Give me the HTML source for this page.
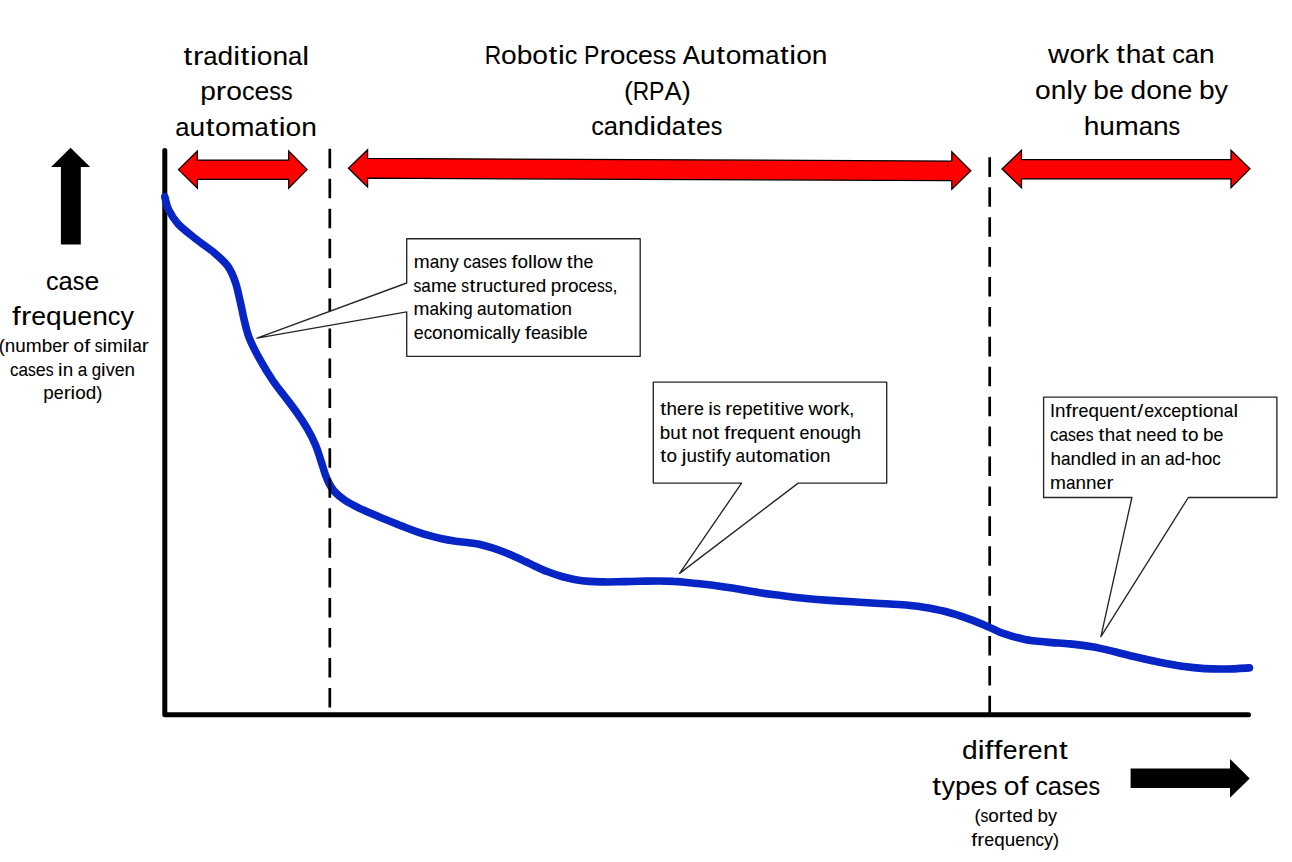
<!DOCTYPE html>
<html><head><meta charset="utf-8"><title>RPA long tail</title>
<style>
html,body{margin:0;padding:0;background:#fff;}
body{width:1292px;height:862px;overflow:hidden;}
svg{display:block;}
text{font-family:"Liberation Sans",sans-serif;fill:#000;stroke:#000;}
</style></head><body>
<svg width="1292" height="862" viewBox="0 0 1292 862">
<rect width="1292" height="862" fill="#fff"/>
<!-- axes -->
<path d="M164.8,150.5 V714.8 H1248.5" fill="none" stroke="#000" stroke-width="5" stroke-linecap="round" stroke-linejoin="round"/>
<!-- dashed line 2 (under curve) -->
<line x1="989.7" y1="157.3" x2="989.7" y2="714" stroke="#000" stroke-width="2.7" stroke-dasharray="19.6 10.32" fill="none"/>
<!-- curve -->
<path d="M164.8,196.7 C165.4,198.9 166.4,205.2 168.6,209.7 C170.8,214.2 173.2,218.6 177.8,223.6 C182.4,228.6 190.2,234.4 196.4,239.4 C202.6,244.4 209.7,248.8 214.9,253.3 C220.2,257.8 224.5,261.5 227.9,266.3 C231.3,271.1 233.3,276.3 235.3,282.0 C237.3,287.7 238.5,294.2 240.0,300.6 C241.5,307.0 242.8,314.3 244.3,320.5 C245.8,326.7 246.7,331.5 249.2,337.8 C251.7,344.1 255.4,351.3 259.3,358.3 C263.2,365.3 268.2,373.7 272.4,380.0 C276.6,386.3 280.5,390.8 284.6,396.2 C288.7,401.6 293.0,407.1 296.8,412.5 C300.6,417.9 304.2,423.3 307.3,428.7 C310.4,434.1 313.2,439.5 315.5,444.9 C317.8,450.3 319.5,456.3 321.1,461.2 C322.7,466.1 323.8,470.4 325.2,474.2 C326.6,478.0 327.7,480.9 329.3,483.9 C330.9,486.9 332.3,489.3 334.9,492.0 C337.5,494.7 340.9,497.5 344.7,500.1 C348.5,502.7 353.5,505.3 357.7,507.4 C361.9,509.5 366.3,511.3 370.0,512.9 C373.7,514.5 376.3,515.6 380.0,517.2 C383.7,518.8 388.3,520.6 392.4,522.3 C396.5,524.0 400.7,525.6 404.8,527.2 C408.9,528.8 413.1,530.4 417.2,531.8 C421.3,533.2 425.4,534.5 429.5,535.7 C433.6,536.9 437.8,537.9 441.9,538.8 C446.0,539.7 450.2,540.4 454.3,541.0 C458.4,541.6 462.6,542.0 466.7,542.5 C470.8,543.0 475.0,543.4 479.1,544.3 C483.2,545.2 487.4,546.4 491.5,547.7 C495.6,549.0 499.7,550.4 503.8,552.0 C507.9,553.6 512.5,555.6 516.2,557.2 C519.9,558.8 523.0,560.4 526.0,561.8 C529.0,563.2 530.2,563.9 533.9,565.6 C537.5,567.3 543.2,570.0 547.9,571.8 C552.5,573.6 557.2,575.2 561.8,576.5 C566.4,577.8 571.1,578.9 575.7,579.7 C580.4,580.5 585.1,581.0 589.7,581.4 C594.4,581.8 599.0,581.8 603.6,581.9 C608.2,582.0 612.9,581.9 617.5,581.8 C622.1,581.7 626.9,581.6 631.5,581.5 C636.1,581.4 640.8,581.2 645.4,581.1 C650.0,581.0 654.7,581.0 659.3,581.0 C663.9,581.0 668.6,581.1 673.2,581.4 C677.9,581.6 682.7,582.1 687.2,582.5 C691.7,582.9 695.7,583.3 700.0,583.8 C704.3,584.3 707.1,584.5 713.2,585.3 C719.3,586.1 728.6,587.6 736.4,588.8 C744.1,590.0 752.0,591.6 759.7,592.7 C767.5,593.9 775.2,594.7 782.9,595.7 C790.6,596.7 798.4,597.7 806.1,598.5 C813.8,599.3 821.6,599.9 829.3,600.4 C837.0,600.9 844.8,601.3 852.5,601.8 C860.2,602.3 868.0,602.8 875.7,603.2 C883.5,603.7 891.2,603.9 899.0,604.5 C906.8,605.1 914.5,605.7 922.2,606.9 C929.9,608.1 937.7,609.5 945.4,611.5 C953.1,613.5 961.2,616.2 968.6,618.9 C976.0,621.5 984.2,625.0 989.8,627.4 C995.4,629.8 996.5,631.1 1002.4,633.1 C1008.2,635.1 1017.4,637.9 1024.9,639.4 C1032.4,640.9 1039.8,641.4 1047.3,642.1 C1054.8,642.9 1062.3,643.1 1069.8,643.9 C1077.3,644.7 1084.7,645.5 1092.2,646.8 C1099.7,648.1 1107.2,650.0 1114.7,651.7 C1122.2,653.5 1129.6,655.5 1137.1,657.3 C1144.6,659.1 1152.1,660.8 1159.6,662.3 C1167.1,663.8 1174.5,665.2 1182.0,666.3 C1189.5,667.3 1197.0,668.1 1204.5,668.6 C1212.0,669.1 1219.4,669.1 1226.9,669.0 C1234.4,668.9 1245.7,668.1 1249.4,667.9" fill="none" stroke="#0725c5" stroke-width="7.6" stroke-linecap="round" stroke-linejoin="round"/>
<!-- dashed line 1 (over curve) -->
<line x1="329.8" y1="148.8" x2="329.8" y2="712" stroke="#000" stroke-width="2.7" stroke-dasharray="19.5 10.45" fill="none"/>
<!-- callouts -->
<g fill="#fff" stroke="#262626" stroke-width="1.35" stroke-linejoin="round">
<path d="M406.7,238.7 H640.2 V356.3 H406.7 V311.9 L257,338.2 L406.7,283 Z"/>
<path d="M653.3,382.1 H886.7 V483.1 H798.2 L679.6,573.4 L741.6,483.1 H653.3 Z"/>
<path d="M1043.6,397.1 H1276.9 V497.5 H1188.3 L1100.9,636.7 L1131.9,497.5 H1043.6 Z"/>
</g>
<!-- red arrows -->
<g fill="#ff0000" stroke="#000" stroke-width="1.25" stroke-linejoin="miter">
<path d="M178.4,169.6 L197.4,151.1 V160.1 H288.7 V151.1 L307,169.6 L288.7,188.3 V179.3 H197.4 V188.3 Z"/>
<path d="M348.4,168.2 L367.6,149.7 V158.4 L951.8,161 V151.8 L970.8,170.8 L951.8,189.2 V180.5 L367.6,178.2 V187 Z"/>
<path d="M1002,169 L1021.5,150.3 V159.6 H1231 V150.3 L1250,168.8 L1231,187.8 V178.9 H1021.5 V187.8 Z"/>
</g>
<!-- black arrows -->
<path d="M70.6,147.7 L90.1,166.9 H80.8 V244.6 H60.9 V166.9 H51.1 Z" fill="#000"/>
<path d="M1130.6,768.4 H1230 V758.9 L1249.7,778.4 L1230,797.7 V788.1 H1130.6 Z" fill="#000"/>
<!-- text -->
<g font-size="26.5" stroke-width="0.05"><text transform="translate(183.57,64.5) scale(1.180,1)">t</text><text transform="translate(192.90,64.5) scale(1.175,1)">r</text><text transform="translate(203.27,64.5) scale(0.967,1)">a</text><text transform="translate(217.52,64.5) scale(1.061,1)">d</text><text transform="translate(233.15,64.5) scale(1.160,1)">i</text><text transform="translate(240.62,64.5) scale(1.180,1)">t</text><text transform="translate(249.94,64.5) scale(1.160,1)">i</text><text transform="translate(256.77,64.5) scale(1.064,1)">o</text><text transform="translate(272.46,64.5) scale(1.061,1)">n</text><text transform="translate(288.09,64.5) scale(0.967,1)">a</text><text transform="translate(302.34,64.5) scale(1.160,1)">l</text></g>
<g font-size="26.5" stroke-width="0.05"><text transform="translate(200.23,99.7) scale(1.061,1)">p</text><text transform="translate(215.86,99.7) scale(1.175,1)">r</text><text transform="translate(226.23,99.7) scale(1.064,1)">o</text><text transform="translate(241.92,99.7) scale(0.949,1)">c</text><text transform="translate(254.50,99.7) scale(1.004,1)">e</text><text transform="translate(269.30,99.7) scale(0.878,1)">s</text><text transform="translate(280.94,99.7) scale(0.878,1)">s</text></g>
<g font-size="26.5" stroke-width="0.05"><text transform="translate(175.27,136.2) scale(0.967,1)">a</text><text transform="translate(189.52,136.2) scale(1.061,1)">u</text><text transform="translate(205.79,136.2) scale(1.180,1)">t</text><text transform="translate(215.12,136.2) scale(1.064,1)">o</text><text transform="translate(230.80,136.2) scale(1.077,1)">m</text><text transform="translate(254.57,136.2) scale(0.967,1)">a</text><text transform="translate(269.46,136.2) scale(1.180,1)">t</text><text transform="translate(278.78,136.2) scale(1.160,1)">i</text><text transform="translate(285.61,136.2) scale(1.064,1)">o</text><text transform="translate(301.30,136.2) scale(1.061,1)">n</text></g>
<g font-size="26.5" stroke-width="0.05"><text transform="translate(484.65,63.5) scale(0.860,1)">R</text><text transform="translate(500.96,63.5) scale(1.064,1)">o</text><text transform="translate(516.65,63.5) scale(1.061,1)">b</text><text transform="translate(532.28,63.5) scale(1.064,1)">o</text><text transform="translate(548.60,63.5) scale(1.180,1)">t</text><text transform="translate(557.93,63.5) scale(1.160,1)">i</text><text transform="translate(564.76,63.5) scale(0.949,1)">c</text><text transform="translate(584.06,63.5) scale(0.870,1)">P</text><text transform="translate(599.43,63.5) scale(1.175,1)">r</text><text transform="translate(609.80,63.5) scale(1.064,1)">o</text><text transform="translate(625.49,63.5) scale(0.949,1)">c</text><text transform="translate(638.07,63.5) scale(1.004,1)">e</text><text transform="translate(652.87,63.5) scale(0.878,1)">s</text><text transform="translate(664.51,63.5) scale(0.878,1)">s</text><text transform="translate(682.87,63.5) scale(0.974,1)">A</text><text transform="translate(700.08,63.5) scale(1.061,1)">u</text><text transform="translate(716.35,63.5) scale(1.180,1)">t</text><text transform="translate(725.68,63.5) scale(1.064,1)">o</text><text transform="translate(741.37,63.5) scale(1.077,1)">m</text><text transform="translate(765.13,63.5) scale(0.967,1)">a</text><text transform="translate(780.02,63.5) scale(1.180,1)">t</text><text transform="translate(789.35,63.5) scale(1.160,1)">i</text><text transform="translate(796.18,63.5) scale(1.064,1)">o</text><text transform="translate(811.87,63.5) scale(1.061,1)">n</text></g>
<g font-size="26.5" stroke-width="0.05"><text transform="translate(623.91,99.6) scale(1.022,1)">(</text><text transform="translate(632.78,99.6) scale(0.860,1)">R</text><text transform="translate(649.09,99.6) scale(0.870,1)">P</text><text transform="translate(664.45,99.6) scale(0.974,1)">A</text><text transform="translate(681.67,99.6) scale(1.022,1)">)</text></g>
<g font-size="26.5" stroke-width="0.05"><text transform="translate(591.25,135.4) scale(0.949,1)">c</text><text transform="translate(603.83,135.4) scale(0.967,1)">a</text><text transform="translate(618.08,135.4) scale(1.061,1)">n</text><text transform="translate(633.71,135.4) scale(1.061,1)">d</text><text transform="translate(649.34,135.4) scale(1.160,1)">i</text><text transform="translate(656.17,135.4) scale(1.061,1)">d</text><text transform="translate(671.80,135.4) scale(0.967,1)">a</text><text transform="translate(686.69,135.4) scale(1.180,1)">t</text><text transform="translate(696.01,135.4) scale(1.004,1)">e</text><text transform="translate(710.82,135.4) scale(0.878,1)">s</text></g>
<g font-size="26.5" stroke-width="0.05"><text transform="translate(1048.11,62.9) scale(1.111,1)">w</text><text transform="translate(1069.38,62.9) scale(1.064,1)">o</text><text transform="translate(1085.07,62.9) scale(1.175,1)">r</text><text transform="translate(1095.44,62.9) scale(1.021,1)">k</text><text transform="translate(1116.33,62.9) scale(1.180,1)">t</text><text transform="translate(1125.65,62.9) scale(1.061,1)">h</text><text transform="translate(1141.29,62.9) scale(0.967,1)">a</text><text transform="translate(1156.17,62.9) scale(1.180,1)">t</text><text transform="translate(1172.23,62.9) scale(0.949,1)">c</text><text transform="translate(1184.81,62.9) scale(0.967,1)">a</text><text transform="translate(1199.06,62.9) scale(1.061,1)">n</text></g>
<g font-size="26.5" stroke-width="0.05"><text transform="translate(1035.02,98.7) scale(1.064,1)">o</text><text transform="translate(1050.70,98.7) scale(1.061,1)">n</text><text transform="translate(1066.33,98.7) scale(1.160,1)">l</text><text transform="translate(1073.16,98.7) scale(1.016,1)">y</text><text transform="translate(1093.35,98.7) scale(1.061,1)">b</text><text transform="translate(1108.98,98.7) scale(1.004,1)">e</text><text transform="translate(1130.51,98.7) scale(1.061,1)">d</text><text transform="translate(1146.14,98.7) scale(1.064,1)">o</text><text transform="translate(1161.83,98.7) scale(1.061,1)">n</text><text transform="translate(1177.46,98.7) scale(1.004,1)">e</text><text transform="translate(1198.99,98.7) scale(1.061,1)">b</text><text transform="translate(1214.62,98.7) scale(1.016,1)">y</text></g>
<g font-size="26.5" stroke-width="0.05"><text transform="translate(1083.63,134.5) scale(1.061,1)">h</text><text transform="translate(1099.26,134.5) scale(1.061,1)">u</text><text transform="translate(1114.89,134.5) scale(1.077,1)">m</text><text transform="translate(1138.65,134.5) scale(0.967,1)">a</text><text transform="translate(1152.91,134.5) scale(1.061,1)">n</text><text transform="translate(1168.54,134.5) scale(0.878,1)">s</text></g>
<g font-size="26.5" stroke-width="0.05"><text transform="translate(45.92,289.7) scale(0.949,1)">c</text><text transform="translate(58.50,289.7) scale(0.967,1)">a</text><text transform="translate(72.75,289.7) scale(0.878,1)">s</text><text transform="translate(84.38,289.7) scale(1.004,1)">e</text></g>
<g font-size="26.5" stroke-width="0.05"><text transform="translate(12.05,325.2) scale(1.180,1)">f</text><text transform="translate(20.93,325.2) scale(1.175,1)">r</text><text transform="translate(31.30,325.2) scale(1.004,1)">e</text><text transform="translate(46.11,325.2) scale(1.061,1)">q</text><text transform="translate(61.74,325.2) scale(1.061,1)">u</text><text transform="translate(77.37,325.2) scale(1.004,1)">e</text><text transform="translate(92.17,325.2) scale(1.061,1)">n</text><text transform="translate(107.80,325.2) scale(0.949,1)">c</text><text transform="translate(120.38,325.2) scale(1.016,1)">y</text></g>
<g font-size="18.0" stroke-width="0.08"><text transform="translate(-1.26,351.8) scale(1.009,1)">(</text><text transform="translate(4.79,351.8) scale(1.047,1)">n</text><text transform="translate(15.27,351.8) scale(1.047,1)">u</text><text transform="translate(25.75,351.8) scale(1.063,1)">m</text><text transform="translate(41.69,351.8) scale(1.047,1)">b</text><text transform="translate(52.17,351.8) scale(0.992,1)">e</text><text transform="translate(62.09,351.8) scale(1.160,1)">r</text><text transform="translate(73.56,351.8) scale(1.051,1)">o</text><text transform="translate(84.17,351.8) scale(1.180,1)">f</text><text transform="translate(94.68,351.8) scale(0.867,1)">s</text><text transform="translate(102.48,351.8) scale(1.145,1)">i</text><text transform="translate(107.06,351.8) scale(1.063,1)">m</text><text transform="translate(123.00,351.8) scale(1.145,1)">i</text><text transform="translate(127.57,351.8) scale(1.145,1)">l</text><text transform="translate(132.15,351.8) scale(0.955,1)">a</text><text transform="translate(141.71,351.8) scale(1.160,1)">r</text></g>
<g font-size="18.0" stroke-width="0.08"><text transform="translate(10.02,375.6) scale(0.937,1)">c</text><text transform="translate(18.46,375.6) scale(0.955,1)">a</text><text transform="translate(28.01,375.6) scale(0.867,1)">s</text><text transform="translate(35.82,375.6) scale(0.992,1)">e</text><text transform="translate(45.74,375.6) scale(0.867,1)">s</text><text transform="translate(58.06,375.6) scale(1.145,1)">i</text><text transform="translate(62.63,375.6) scale(1.047,1)">n</text><text transform="translate(77.63,375.6) scale(0.955,1)">a</text><text transform="translate(91.69,375.6) scale(0.938,1)">g</text><text transform="translate(101.08,375.6) scale(1.145,1)">i</text><text transform="translate(105.66,375.6) scale(1.001,1)">v</text><text transform="translate(114.67,375.6) scale(0.992,1)">e</text><text transform="translate(124.60,375.6) scale(1.047,1)">n</text></g>
<g font-size="18.0" stroke-width="0.08"><text transform="translate(43.25,399.4) scale(1.047,1)">p</text><text transform="translate(53.74,399.4) scale(0.992,1)">e</text><text transform="translate(63.66,399.4) scale(1.160,1)">r</text><text transform="translate(70.62,399.4) scale(1.145,1)">i</text><text transform="translate(75.20,399.4) scale(1.051,1)">o</text><text transform="translate(85.72,399.4) scale(1.047,1)">d</text><text transform="translate(96.20,399.4) scale(1.009,1)">)</text></g>
<g font-size="18.0" stroke-width="0.08"><text transform="translate(413.80,267.9) scale(1.063,1)">m</text><text transform="translate(429.74,267.9) scale(0.955,1)">a</text><text transform="translate(439.29,267.9) scale(1.047,1)">n</text><text transform="translate(449.78,267.9) scale(1.003,1)">y</text><text transform="translate(463.32,267.9) scale(0.937,1)">c</text><text transform="translate(471.75,267.9) scale(0.955,1)">a</text><text transform="translate(481.31,267.9) scale(0.867,1)">s</text><text transform="translate(489.11,267.9) scale(0.992,1)">e</text><text transform="translate(499.04,267.9) scale(0.867,1)">s</text><text transform="translate(511.44,267.9) scale(1.180,1)">f</text><text transform="translate(517.44,267.9) scale(1.051,1)">o</text><text transform="translate(527.96,267.9) scale(1.145,1)">l</text><text transform="translate(532.54,267.9) scale(1.145,1)">l</text><text transform="translate(537.12,267.9) scale(1.051,1)">o</text><text transform="translate(547.64,267.9) scale(1.097,1)">w</text><text transform="translate(566.80,267.9) scale(1.180,1)">t</text><text transform="translate(573.09,267.9) scale(1.047,1)">h</text><text transform="translate(583.57,267.9) scale(0.992,1)">e</text></g>
<g font-size="18.0" stroke-width="0.08"><text transform="translate(413.54,291.6) scale(0.867,1)">s</text><text transform="translate(421.34,291.6) scale(0.955,1)">a</text><text transform="translate(430.89,291.6) scale(1.063,1)">m</text><text transform="translate(446.83,291.6) scale(0.992,1)">e</text><text transform="translate(461.27,291.6) scale(0.867,1)">s</text><text transform="translate(469.46,291.6) scale(1.180,1)">t</text><text transform="translate(475.75,291.6) scale(1.160,1)">r</text><text transform="translate(482.71,291.6) scale(1.047,1)">u</text><text transform="translate(493.19,291.6) scale(0.937,1)">c</text><text transform="translate(502.02,291.6) scale(1.180,1)">t</text><text transform="translate(508.31,291.6) scale(1.047,1)">u</text><text transform="translate(518.79,291.6) scale(1.160,1)">r</text><text transform="translate(525.74,291.6) scale(0.992,1)">e</text><text transform="translate(535.67,291.6) scale(1.047,1)">d</text><text transform="translate(550.66,291.6) scale(1.047,1)">p</text><text transform="translate(561.14,291.6) scale(1.160,1)">r</text><text transform="translate(568.10,291.6) scale(1.051,1)">o</text><text transform="translate(578.62,291.6) scale(0.937,1)">c</text><text transform="translate(587.06,291.6) scale(0.992,1)">e</text><text transform="translate(596.98,291.6) scale(0.867,1)">s</text><text transform="translate(604.78,291.6) scale(0.867,1)">s</text><text transform="translate(612.59,291.6) scale(0.995,1)">,</text></g>
<g font-size="18.0" stroke-width="0.08"><text transform="translate(413.54,315.4) scale(1.063,1)">m</text><text transform="translate(429.48,315.4) scale(0.955,1)">a</text><text transform="translate(439.03,315.4) scale(1.008,1)">k</text><text transform="translate(448.10,315.4) scale(1.145,1)">i</text><text transform="translate(452.68,315.4) scale(1.047,1)">n</text><text transform="translate(463.16,315.4) scale(0.938,1)">g</text><text transform="translate(477.06,315.4) scale(0.955,1)">a</text><text transform="translate(486.62,315.4) scale(1.047,1)">u</text><text transform="translate(497.49,315.4) scale(1.180,1)">t</text><text transform="translate(503.78,315.4) scale(1.051,1)">o</text><text transform="translate(514.30,315.4) scale(1.063,1)">m</text><text transform="translate(530.24,315.4) scale(0.955,1)">a</text><text transform="translate(540.19,315.4) scale(1.180,1)">t</text><text transform="translate(546.48,315.4) scale(1.145,1)">i</text><text transform="translate(551.06,315.4) scale(1.051,1)">o</text><text transform="translate(561.58,315.4) scale(1.047,1)">n</text></g>
<g font-size="18.0" stroke-width="0.08"><text transform="translate(413.74,339.4) scale(0.992,1)">e</text><text transform="translate(423.66,339.4) scale(0.937,1)">c</text><text transform="translate(432.10,339.4) scale(1.051,1)">o</text><text transform="translate(442.62,339.4) scale(1.047,1)">n</text><text transform="translate(453.10,339.4) scale(1.051,1)">o</text><text transform="translate(463.62,339.4) scale(1.063,1)">m</text><text transform="translate(479.56,339.4) scale(1.145,1)">i</text><text transform="translate(484.14,339.4) scale(0.937,1)">c</text><text transform="translate(492.57,339.4) scale(0.955,1)">a</text><text transform="translate(502.13,339.4) scale(1.145,1)">l</text><text transform="translate(506.71,339.4) scale(1.145,1)">l</text><text transform="translate(511.29,339.4) scale(1.003,1)">y</text><text transform="translate(524.92,339.4) scale(1.180,1)">f</text><text transform="translate(530.91,339.4) scale(0.992,1)">e</text><text transform="translate(540.84,339.4) scale(0.955,1)">a</text><text transform="translate(550.40,339.4) scale(0.867,1)">s</text><text transform="translate(558.20,339.4) scale(1.145,1)">i</text><text transform="translate(562.78,339.4) scale(1.047,1)">b</text><text transform="translate(573.26,339.4) scale(1.145,1)">l</text><text transform="translate(577.84,339.4) scale(0.992,1)">e</text></g>
<g font-size="18.0" stroke-width="0.08"><text transform="translate(660.28,415.2) scale(1.180,1)">t</text><text transform="translate(666.57,415.2) scale(1.047,1)">h</text><text transform="translate(677.06,415.2) scale(0.992,1)">e</text><text transform="translate(686.98,415.2) scale(1.160,1)">r</text><text transform="translate(693.94,415.2) scale(0.992,1)">e</text><text transform="translate(708.37,415.2) scale(1.145,1)">i</text><text transform="translate(712.95,415.2) scale(0.867,1)">s</text><text transform="translate(725.27,415.2) scale(1.160,1)">r</text><text transform="translate(732.22,415.2) scale(0.992,1)">e</text><text transform="translate(742.15,415.2) scale(1.047,1)">p</text><text transform="translate(752.63,415.2) scale(0.992,1)">e</text><text transform="translate(762.95,415.2) scale(1.180,1)">t</text><text transform="translate(769.24,415.2) scale(1.145,1)">i</text><text transform="translate(774.21,415.2) scale(1.180,1)">t</text><text transform="translate(780.50,415.2) scale(1.145,1)">i</text><text transform="translate(785.08,415.2) scale(1.001,1)">v</text><text transform="translate(794.09,415.2) scale(0.992,1)">e</text><text transform="translate(808.52,415.2) scale(1.097,1)">w</text><text transform="translate(822.78,415.2) scale(1.051,1)">o</text><text transform="translate(833.31,415.2) scale(1.160,1)">r</text><text transform="translate(840.26,415.2) scale(1.008,1)">k</text><text transform="translate(849.33,415.2) scale(0.995,1)">,</text></g>
<g font-size="18.0" stroke-width="0.08"><text transform="translate(659.72,438.9) scale(1.047,1)">b</text><text transform="translate(670.20,438.9) scale(1.047,1)">u</text><text transform="translate(681.07,438.9) scale(1.180,1)">t</text><text transform="translate(691.87,438.9) scale(1.047,1)">n</text><text transform="translate(702.35,438.9) scale(1.051,1)">o</text><text transform="translate(713.27,438.9) scale(1.180,1)">t</text><text transform="translate(724.16,438.9) scale(1.180,1)">f</text><text transform="translate(730.16,438.9) scale(1.160,1)">r</text><text transform="translate(737.11,438.9) scale(0.992,1)">e</text><text transform="translate(747.04,438.9) scale(1.047,1)">q</text><text transform="translate(757.52,438.9) scale(1.047,1)">u</text><text transform="translate(768.00,438.9) scale(0.992,1)">e</text><text transform="translate(777.93,438.9) scale(1.047,1)">n</text><text transform="translate(788.80,438.9) scale(1.180,1)">t</text><text transform="translate(799.60,438.9) scale(0.992,1)">e</text><text transform="translate(809.53,438.9) scale(1.047,1)">n</text><text transform="translate(820.01,438.9) scale(1.051,1)">o</text><text transform="translate(830.53,438.9) scale(1.047,1)">u</text><text transform="translate(841.01,438.9) scale(0.938,1)">g</text><text transform="translate(850.40,438.9) scale(1.047,1)">h</text></g>
<g font-size="18.0" stroke-width="0.08"><text transform="translate(660.31,462.4) scale(1.180,1)">t</text><text transform="translate(666.60,462.4) scale(1.051,1)">o</text><text transform="translate(681.66,462.4) scale(1.180,1)">j</text><text transform="translate(686.41,462.4) scale(1.047,1)">u</text><text transform="translate(696.89,462.4) scale(0.867,1)">s</text><text transform="translate(705.08,462.4) scale(1.180,1)">t</text><text transform="translate(711.37,462.4) scale(1.145,1)">i</text><text transform="translate(716.05,462.4) scale(1.180,1)">f</text><text transform="translate(722.04,462.4) scale(1.003,1)">y</text><text transform="translate(735.58,462.4) scale(0.955,1)">a</text><text transform="translate(745.14,462.4) scale(1.047,1)">u</text><text transform="translate(756.01,462.4) scale(1.180,1)">t</text><text transform="translate(762.30,462.4) scale(1.051,1)">o</text><text transform="translate(772.82,462.4) scale(1.063,1)">m</text><text transform="translate(788.76,462.4) scale(0.955,1)">a</text><text transform="translate(798.71,462.4) scale(1.180,1)">t</text><text transform="translate(805.00,462.4) scale(1.145,1)">i</text><text transform="translate(809.58,462.4) scale(1.051,1)">o</text><text transform="translate(820.10,462.4) scale(1.047,1)">n</text></g>
<g font-size="18.0" stroke-width="0.08"><text transform="translate(1049.93,417.3) scale(1.005,1)">I</text><text transform="translate(1054.95,417.3) scale(1.047,1)">n</text><text transform="translate(1065.53,417.3) scale(1.180,1)">f</text><text transform="translate(1071.52,417.3) scale(1.160,1)">r</text><text transform="translate(1078.48,417.3) scale(0.992,1)">e</text><text transform="translate(1088.41,417.3) scale(1.047,1)">q</text><text transform="translate(1098.89,417.3) scale(1.047,1)">u</text><text transform="translate(1109.37,417.3) scale(0.992,1)">e</text><text transform="translate(1119.29,417.3) scale(1.047,1)">n</text><text transform="translate(1130.17,417.3) scale(1.180,1)">t</text><text transform="translate(1137.36,417.3) scale(1.180,1)">/</text><text transform="translate(1144.16,417.3) scale(0.992,1)">e</text><text transform="translate(1154.09,417.3) scale(0.960,1)">x</text><text transform="translate(1162.73,417.3) scale(0.937,1)">c</text><text transform="translate(1171.17,417.3) scale(0.992,1)">e</text><text transform="translate(1181.09,417.3) scale(1.047,1)">p</text><text transform="translate(1191.97,417.3) scale(1.180,1)">t</text><text transform="translate(1198.26,417.3) scale(1.145,1)">i</text><text transform="translate(1202.84,417.3) scale(1.051,1)">o</text><text transform="translate(1213.36,417.3) scale(1.047,1)">n</text><text transform="translate(1223.84,417.3) scale(0.955,1)">a</text><text transform="translate(1233.39,417.3) scale(1.145,1)">l</text></g>
<g font-size="18.0" stroke-width="0.08"><text transform="translate(1050.05,441.1) scale(0.937,1)">c</text><text transform="translate(1058.49,441.1) scale(0.955,1)">a</text><text transform="translate(1068.05,441.1) scale(0.867,1)">s</text><text transform="translate(1075.85,441.1) scale(0.992,1)">e</text><text transform="translate(1085.77,441.1) scale(0.867,1)">s</text><text transform="translate(1098.48,441.1) scale(1.180,1)">t</text><text transform="translate(1104.77,441.1) scale(1.047,1)">h</text><text transform="translate(1115.25,441.1) scale(0.955,1)">a</text><text transform="translate(1125.20,441.1) scale(1.180,1)">t</text><text transform="translate(1136.00,441.1) scale(1.047,1)">n</text><text transform="translate(1146.48,441.1) scale(0.992,1)">e</text><text transform="translate(1156.41,441.1) scale(0.992,1)">e</text><text transform="translate(1166.33,441.1) scale(1.047,1)">d</text><text transform="translate(1181.72,441.1) scale(1.180,1)">t</text><text transform="translate(1188.01,441.1) scale(1.051,1)">o</text><text transform="translate(1203.04,441.1) scale(1.047,1)">b</text><text transform="translate(1213.52,441.1) scale(0.992,1)">e</text></g>
<g font-size="18.0" stroke-width="0.08"><text transform="translate(1050.40,464.9) scale(1.047,1)">h</text><text transform="translate(1060.88,464.9) scale(0.955,1)">a</text><text transform="translate(1070.44,464.9) scale(1.047,1)">n</text><text transform="translate(1080.92,464.9) scale(1.047,1)">d</text><text transform="translate(1091.40,464.9) scale(1.145,1)">l</text><text transform="translate(1095.98,464.9) scale(0.992,1)">e</text><text transform="translate(1105.91,464.9) scale(1.047,1)">d</text><text transform="translate(1120.90,464.9) scale(1.145,1)">i</text><text transform="translate(1125.48,464.9) scale(1.047,1)">n</text><text transform="translate(1140.47,464.9) scale(0.955,1)">a</text><text transform="translate(1150.02,464.9) scale(1.047,1)">n</text><text transform="translate(1165.02,464.9) scale(0.955,1)">a</text><text transform="translate(1174.57,464.9) scale(1.047,1)">d</text><text transform="translate(1185.05,464.9) scale(1.019,1)">-</text><text transform="translate(1191.16,464.9) scale(1.047,1)">h</text><text transform="translate(1201.64,464.9) scale(1.051,1)">o</text><text transform="translate(1212.16,464.9) scale(0.937,1)">c</text></g>
<g font-size="18.0" stroke-width="0.08"><text transform="translate(1050.03,489.0) scale(1.063,1)">m</text><text transform="translate(1065.97,489.0) scale(0.955,1)">a</text><text transform="translate(1075.52,489.0) scale(1.047,1)">n</text><text transform="translate(1086.01,489.0) scale(1.047,1)">n</text><text transform="translate(1096.49,489.0) scale(0.992,1)">e</text><text transform="translate(1106.41,489.0) scale(1.160,1)">r</text></g>
<g font-size="26.5" stroke-width="0.05"><text transform="translate(962.06,759.0) scale(1.061,1)">d</text><text transform="translate(977.69,759.0) scale(1.160,1)">i</text><text transform="translate(984.71,759.0) scale(1.180,1)">f</text><text transform="translate(993.79,759.0) scale(1.180,1)">f</text><text transform="translate(1002.67,759.0) scale(1.004,1)">e</text><text transform="translate(1017.47,759.0) scale(1.175,1)">r</text><text transform="translate(1027.85,759.0) scale(1.004,1)">e</text><text transform="translate(1042.65,759.0) scale(1.061,1)">n</text><text transform="translate(1058.92,759.0) scale(1.180,1)">t</text></g>
<g font-size="26.5" stroke-width="0.05"><text transform="translate(932.18,794.7) scale(1.180,1)">t</text><text transform="translate(941.50,794.7) scale(1.016,1)">y</text><text transform="translate(954.97,794.7) scale(1.061,1)">p</text><text transform="translate(970.60,794.7) scale(1.004,1)">e</text><text transform="translate(985.40,794.7) scale(0.878,1)">s</text><text transform="translate(1003.76,794.7) scale(1.064,1)">o</text><text transform="translate(1019.65,794.7) scale(1.180,1)">f</text><text transform="translate(1035.26,794.7) scale(0.949,1)">c</text><text transform="translate(1047.84,794.7) scale(0.967,1)">a</text><text transform="translate(1062.09,794.7) scale(0.878,1)">s</text><text transform="translate(1073.72,794.7) scale(1.004,1)">e</text><text transform="translate(1088.53,794.7) scale(0.878,1)">s</text></g>
<g font-size="18.0" stroke-width="0.08"><text transform="translate(974.48,821.7) scale(1.009,1)">(</text><text transform="translate(980.53,821.7) scale(0.867,1)">s</text><text transform="translate(988.33,821.7) scale(1.051,1)">o</text><text transform="translate(998.85,821.7) scale(1.160,1)">r</text><text transform="translate(1006.20,821.7) scale(1.180,1)">t</text><text transform="translate(1012.49,821.7) scale(0.992,1)">e</text><text transform="translate(1022.42,821.7) scale(1.047,1)">d</text><text transform="translate(1037.41,821.7) scale(1.047,1)">b</text><text transform="translate(1047.89,821.7) scale(1.003,1)">y</text></g>
<g font-size="18.0" stroke-width="0.08"><text transform="translate(971.37,845.9) scale(1.180,1)">f</text><text transform="translate(977.36,845.9) scale(1.160,1)">r</text><text transform="translate(984.32,845.9) scale(0.992,1)">e</text><text transform="translate(994.24,845.9) scale(1.047,1)">q</text><text transform="translate(1004.72,845.9) scale(1.047,1)">u</text><text transform="translate(1015.20,845.9) scale(0.992,1)">e</text><text transform="translate(1025.13,845.9) scale(1.047,1)">n</text><text transform="translate(1035.61,845.9) scale(0.937,1)">c</text><text transform="translate(1044.05,845.9) scale(1.003,1)">y</text><text transform="translate(1053.08,845.9) scale(1.009,1)">)</text></g>

</svg>
</body></html>
